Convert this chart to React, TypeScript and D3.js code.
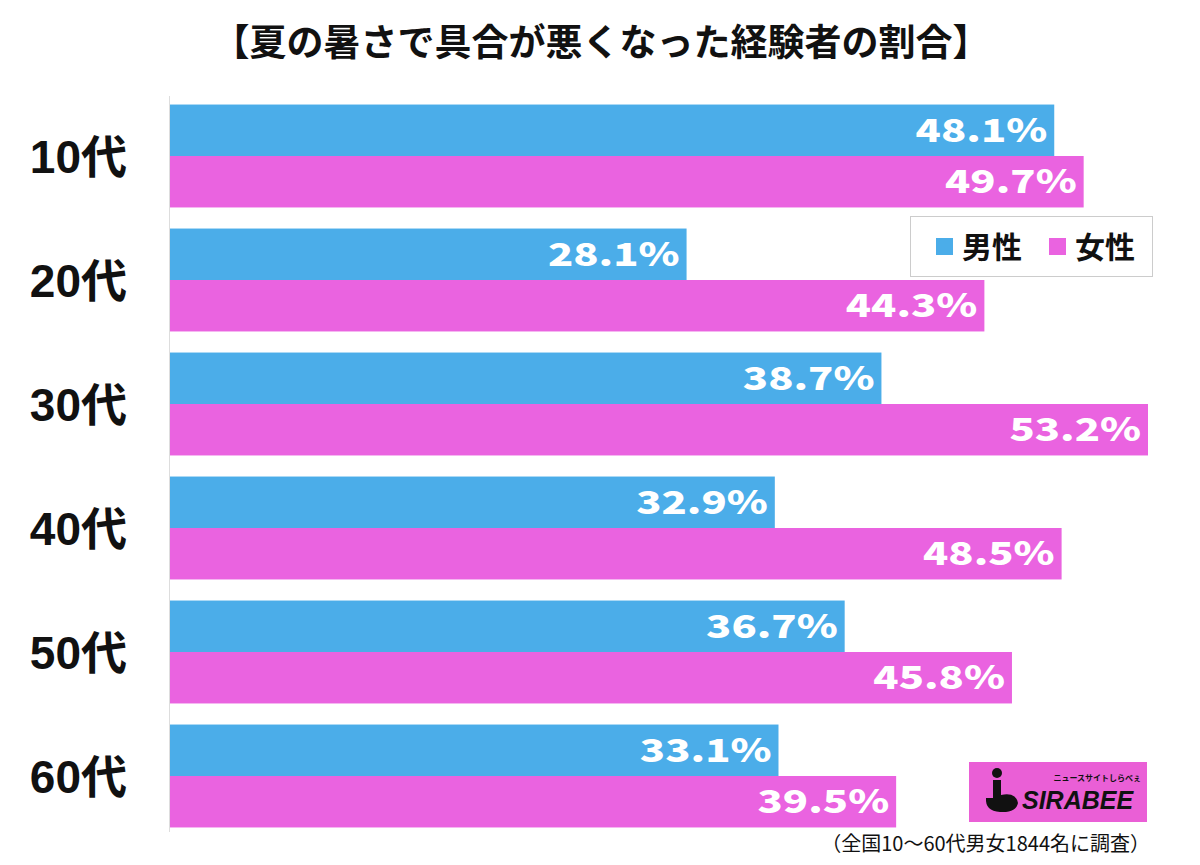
import React from "react";
import * as d3 from "d3";

const categories = ["10代", "20代", "30代", "40代", "50代", "60代"];
const maleValues = [48.1, 28.1, 38.7, 32.9, 36.7, 33.1];
const femaleValues = [49.7, 44.3, 53.2, 48.5, 45.8, 39.5];
const seriesNames = ["男性", "女性"];
const seriesColors = ["#4BADE9", "#EA63E0"];
const title = "【夏の暑さで具合が悪くなった経験者の割合】";
const footnote = "（全国10〜60代男女1844名に調査）";

const W = 1200;
const H = 865;
const FONT = "'Noto Sans CJK JP', 'Noto Sans', sans-serif";
const NUMFONT = "'Noto Sans CJK JP', 'Noto Sans', sans-serif";
const CATFONT = "'Liberation Sans', 'Noto Sans CJK JP', sans-serif";

export default function App() {
  const x = d3.scaleLinear().domain([0, 53.2]).range([170, 1148]);
  const y = d3
    .scaleBand<string>()
    .domain(categories)
    .range([94, 838])
    .paddingInner(0.17)
    .paddingOuter(0.085);
  const sub = d3.scaleBand<number>().domain([0, 1]).range([0, y.bandwidth()]);
  const series = [maleValues, femaleValues];

  return (
    <svg width={W} height={H} style={{ display: "block", position: "absolute", left: 0, top: 0, background: "#fff" }}>
      <rect x={0} y={0} width={W} height={H} fill="#fff" />
      <text x={601} y={56} textAnchor="middle" fontFamily={FONT} fontWeight={700} fontSize={37} fill="#111">
        {title}
      </text>
      <line x1={169.5} x2={169.5} y1={96} y2={832} stroke="#ddd" strokeWidth={1} />
      {categories.map((c, i) => (
        <g key={c}>
          <text
            x={127}
            y={(y(c) as number) + y.bandwidth() / 2}
            dy="0.36em"
            textAnchor="end"
            fontFamily={CATFONT}
            fontWeight={700}
            fontSize={46}
            fill="#111"
          >
            {c}
          </text>
          {series.map((vals, s) => {
            const by = (y(c) as number) + (sub(s) as number);
            const bw = x(vals[i]) - x(0);
            return (
              <g key={s}>
                <rect x={x(0)} y={by} width={bw} height={sub.bandwidth()} fill={seriesColors[s]} />
                <text
                  transform={`translate(${x(vals[i]) - 7},${by + sub.bandwidth() / 2}) scale(1.3,1)`}
                  dy="0.36em"
                  textAnchor="end"
                  fontFamily={NUMFONT}
                  fontWeight={900}
                  fontSize={32}
                  fill="#fff"
                >
                  {vals[i].toFixed(1)}%
                </text>
              </g>
            );
          })}
        </g>
      ))}
      <g>
        <rect x={910.5} y={216.5} width={242} height={60} fill="#fff" stroke="#999" strokeDasharray="1,1" />
        {seriesNames.map((n, s) => (
          <g key={n} transform={`translate(${936 + s * 113},0)`}>
            <rect x={0} y={238} width={17} height={17} fill={seriesColors[s]} />
            <text x={26} y={247} dy="0.36em" fontFamily={FONT} fontWeight={700} fontSize={30} fill="#111">
              {n}
            </text>
          </g>
        ))}
      </g>
      <g>
        <rect x={969} y={762} width={178} height={60} fill="#EA5FD6" />
        <circle cx={997} cy={773} r={5} fill="#111" />
        <path d="M993 780 L1001 780 L1001 795 Q1016 792 1018 803 Q1016 813 1000 812 Q985 811 986 798 L993 798 Z" fill="#111" />
        <text x={1141} y={781} textAnchor="end" fontFamily={FONT} fontWeight={700} fontSize={8} fill="#111">
          ニュースサイトしらべぇ
        </text>
        <text x={1022} y={809} fontFamily={CATFONT} fontWeight={900} fontStyle="italic" fontSize={25} fill="#111">
          SIRABEE
        </text>
      </g>
      <text x={1150} y={851} textAnchor="end" fontFamily={FONT} fontSize={20} fill="#111">
        {footnote}
      </text>
    </svg>
  );
}
